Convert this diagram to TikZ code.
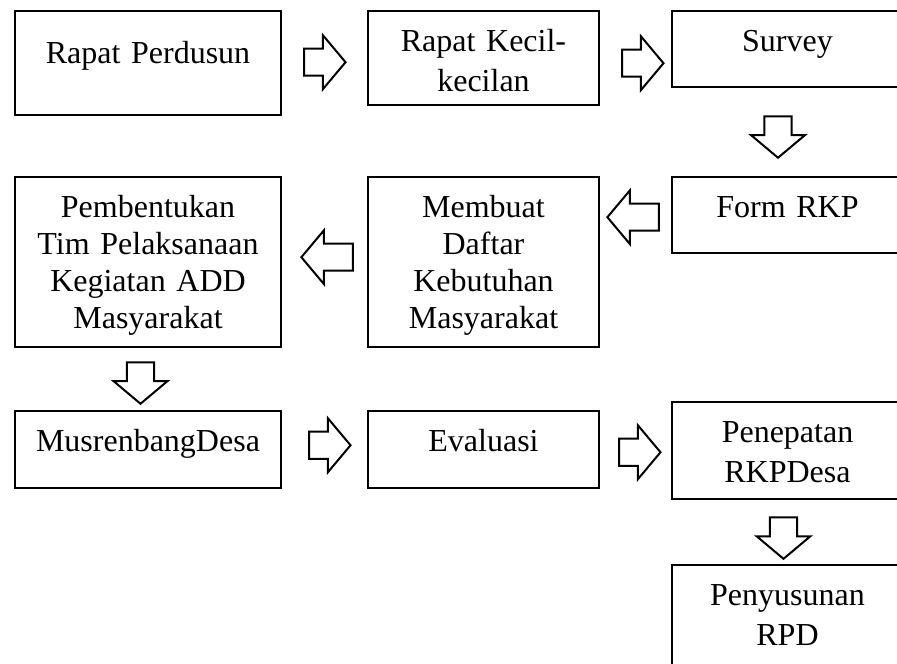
\documentclass[tikz,border=0pt]{standalone}
\usepackage{fontspec}
\setmainfont{Liberation Serif}
\usetikzlibrary{positioning,calc,shapes.arrows}

\begin{document}
\begin{tikzpicture}[
  x=0.375pt,y=-0.375pt,
  font=\fontsize{12}{15}\selectfont,
  box/.style={draw=black,line width=0.9pt,anchor=north,align=center,inner sep=0pt,text height=15pt},
  wide/.style={text width=99.75pt},
  slim/.style={text width=86.6pt},
  tall/.style={font=\fontsize{12}{13.9}\selectfont},
  blk/.style={draw=black,line width=0.75pt,single arrow,anchor=tail,inner sep=4.7pt,minimum height=15.5pt,
    single arrow head extend=5pt,single arrow tip angle=100},
  long/.style={minimum height=19.3pt}]
  \useasboundingbox (0,0) rectangle (897,663);
  \clip (0,0) rectangle (897,663);
  % first row
  \node[box,wide,text height=19.5pt,text depth=19.5pt] (perdusun) at (148,10) {Rapat Perdusun};
  \node[box,slim,text depth=20.25pt] (kecil) at (483.5,10) {Rapat Kecil-\\kecilan};
  \node[box,slim,text depth=13.5pt] (survey) at (787.5,10) {Survey};
  % second row
  \node[box,slim,text depth=13.5pt] (form) at (787.5,176) {Form RKP};
  \node[box,slim,tall,text depth=48.75pt] (daftar) at (483.5,176) {Membuat\\Daftar\\Kebutuhan\\Masyarakat};
  \node[box,wide,tall,text depth=48.75pt] (tim) at (148,176) {Pembentukan\\Tim Pelaksanaan\\Kegiatan ADD\\Masyarakat};
  % third row
  \node[box,wide,text depth=13.9pt] (musren) at (148,410) {MusrenbangDesa};
  \node[box,slim,text depth=13.9pt] (eval) at (483.5,410) {Evaluasi};
  \node[box,slim,text depth=21.4pt] (penetapan) at (787.5,401) {Penepatan\\RKPDesa};
  \node[box,slim,text depth=33.75pt] (rpd) at (787.5,564) {Penyusunan\\RPD};
  % block arrows
  \node[blk] (a1) at ($(perdusun.east)+(21,-1)$) {};
  \node[blk] (a2) at ($(kecil.east)+(21,5)$) {};
  \node[blk,rotate=-90] (a3) at ($(survey.south)+(-9.5,27)$) {};
  \node[blk,long,rotate=180] (a4) at ($(form.west)+(-11,2)$) {};
  \node[blk,long,rotate=180] (a5) at ($(daftar.west)+(-13,-5)$) {};
  \node[blk,rotate=-90] (a6) at ($(tim.south)+(-7.5,13)$) {};
  \node[blk] (a7) at ($(musren.east)+(26,-4.5)$) {};
  \node[blk] (a8) at ($(eval.east)+(18,2.5)$) {};
  \node[blk,rotate=-90] (a9) at ($(penetapan.south)+(-4,16)$) {};
\end{tikzpicture}
\end{document}
